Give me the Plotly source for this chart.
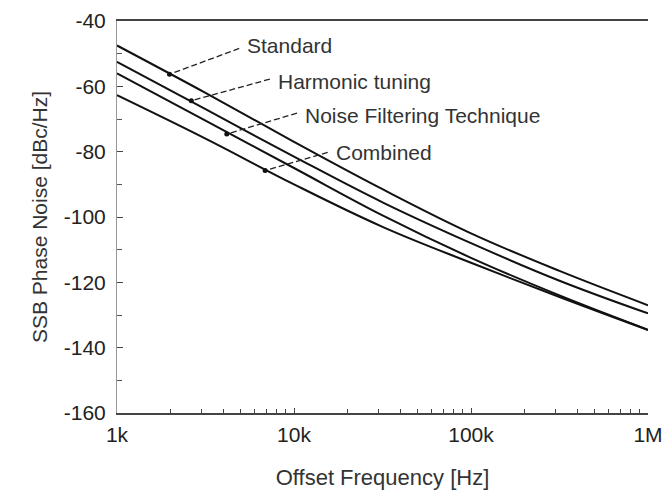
import math
import plotly.graph_objects as go

# ---- data ----
freq_hz = [1e3, 3.1623e3, 1e4, 3.1623e4, 1e5, 3.1623e5, 1e6]
standard = [-47.5, -62.0, -77.0, -91.5, -105.0, -116.5, -127.0]
harmonic_tuning = [-52.5, -67.0, -81.5, -95.5, -108.0, -119.5, -129.5]
noise_filtering = [-56.0, -70.5, -85.0, -99.5, -112.5, -124.0, -134.5]
combined = [-62.7, -76.0, -90.0, -103.0, -114.0, -124.5, -134.6]

series_names = ["Standard", "Harmonic tuning", "Noise Filtering Technique", "Combined"]
series_values = [standard, harmonic_tuning, noise_filtering, combined]

# label anchor (freq, dB), leader start and the point on the curve (freq, dB)
label_pos = [(5.3e3, -47.6), (7.9e3, -58.6), (1.12e4, -69.0), (1.68e4, -80.2)]
leader_start = [(4.9e3, -48.4), (7.3e3, -57.8), (1.04e4, -68.2), (1.55e4, -80.2)]
leader_end = [(1.98e3, -56.3), (2.63e3, -64.4), (4.17e3, -74.6), (6.87e3, -85.8)]

x_tickvals = [1e3, 1e4, 1e5, 1e6]
x_ticktext = ["1k", "10k", "100k", "1M"]
x_minor_vals = [m * d for d in (1e3, 1e4, 1e5) for m in range(2, 10)]
y_tickvals = [-40, -60, -80, -100, -120, -140, -160]
y_ticktext = ["-40", "-60", "-80", "-100", "-120", "-140", "-160"]

FONT = "Liberation Sans, Arial, sans-serif"

fig = go.Figure()
for name, vals in zip(series_names, series_values):
    fig.add_trace(go.Scatter(x=freq_hz, y=vals, mode="lines", name=name,
                             line=dict(color="#111111", width=2, shape="spline", smoothing=1.1),
                             showlegend=False, hoverinfo="skip"))

for (xs, ys), (xe, ye) in zip(leader_start, leader_end):
    fig.add_trace(go.Scatter(x=[xs, xe], y=[ys, ye], mode="lines",
                             line=dict(color="#222222", width=1.3, dash="6px,3px"),
                             showlegend=False, hoverinfo="skip"))
    fig.add_trace(go.Scatter(x=[xe], y=[ye], mode="markers",
                             marker=dict(color="#111111", size=5),
                             showlegend=False, hoverinfo="skip"))

for name, (lx, ly) in zip(series_names, label_pos):
    fig.add_annotation(x=math.log10(lx), y=ly, text=name, showarrow=False,
                       xanchor="left", yanchor="middle",
                       font=dict(family=FONT, size=21, color="#333333"))

fig.update_xaxes(type="log", range=[3, 6], tickvals=x_tickvals, ticktext=x_ticktext,
                 automargin=False,
                 showline=True, linecolor="#444444", linewidth=2, mirror=True,
                 ticks="inside", ticklen=5, tickcolor="#444444",
                 minor=dict(tickvals=x_minor_vals, ticks="inside", ticklen=4,
                            tickwidth=1, tickcolor="#444444", showgrid=False),
                 showgrid=False, zeroline=False, ticklabelstandoff=2,
                 tickfont=dict(family=FONT, size=21, color="#222222"),
                 title=dict(text="Offset Frequency [Hz]", standoff=24,
                            font=dict(family=FONT, size=22, color="#333333")))
fig.update_yaxes(range=[-160, -40], tickvals=y_tickvals, ticktext=y_ticktext,
                 automargin=False,
                 showline=True, linecolor="#999999", linewidth=1, mirror=False,
                 ticks="inside", ticklen=6, tickcolor="#444444",
                 minor=dict(dtick=10, ticks="inside", ticklen=5, tickcolor="#555555", showgrid=False),
                 showgrid=False, zeroline=False, ticklabelstandoff=6,
                 tickfont=dict(family=FONT, size=21, color="#222222"),
                 title=dict(text="SSB Phase Noise [dBc/Hz]", standoff=10,
                            font=dict(family=FONT, size=21, color="#333333")))

fig.update_layout(width=668, height=493, margin=dict(l=117, r=20, t=21, b=80),
                  plot_bgcolor="white", paper_bgcolor="white")

fig.write_html("out.html")
